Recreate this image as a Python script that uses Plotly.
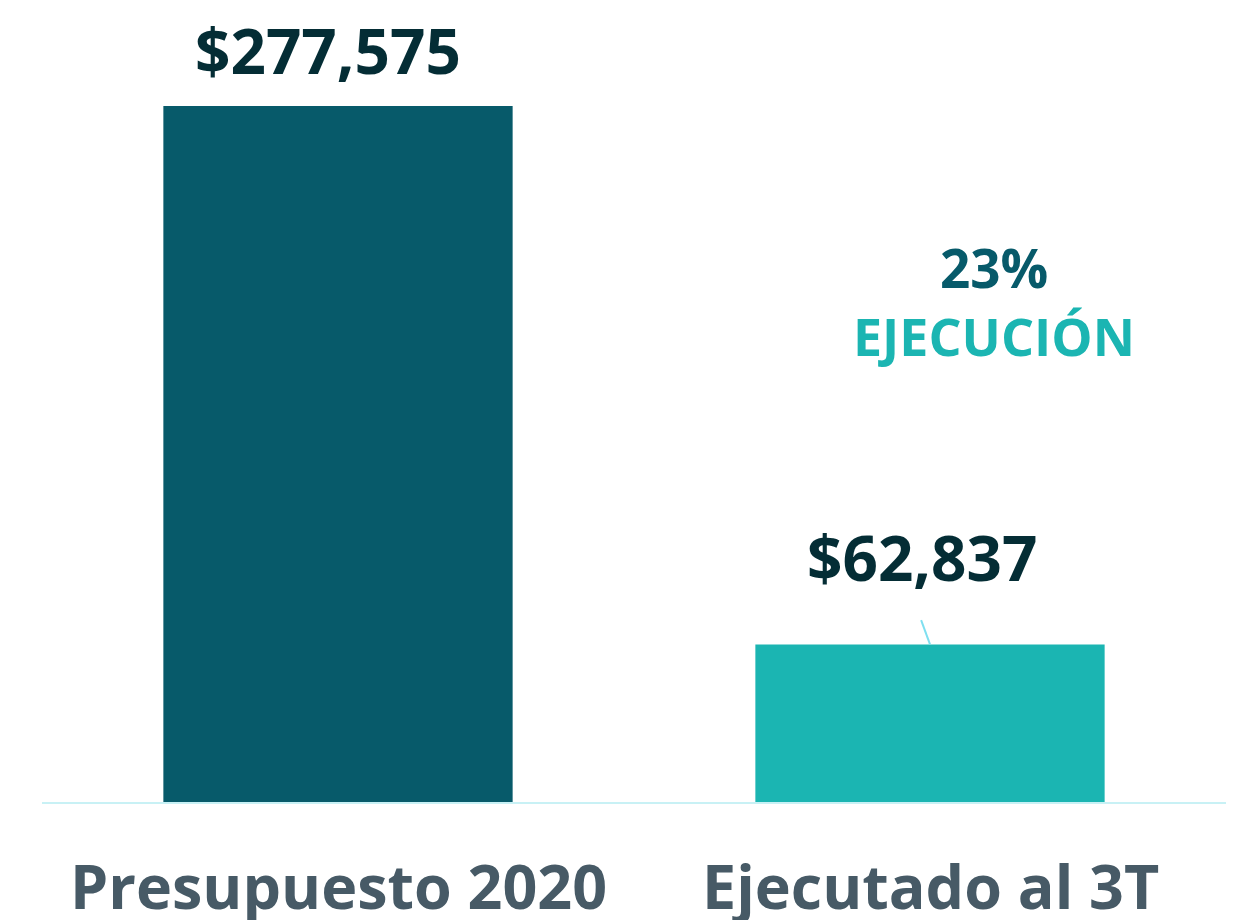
import plotly.graph_objects as go

# Budget vs. executed amount
categories = ["Presupuesto 2020", "Ejecutado al 3T"]
values = [277575, 62837]
bar_colors = ["#075a6a", "#1bb5b2"]
value_labels = ["$277,575", "$62,837"]
execution_pct = "23%"
execution_word = "EJECUCIÓN"

FONT = "Open Sans"

fig = go.Figure(
    go.Bar(
        x=[0, 1],
        y=values,
        marker=dict(color=bar_colors, line=dict(width=0)),
        width=0.59,
        hoverinfo="skip",
    )
)

top = max(values) * 1.1236

# value labels above each bar
fig.add_annotation(x=0, y=values[0], xref="x", yref="y", text=value_labels[0],
                   showarrow=False, yanchor="bottom", xshift=-10, yshift=12,
                   font=dict(family=FONT, size=62, color="#042d35", weight="bold"))
fig.add_annotation(x=1, y=values[1], xref="x", yref="y", text=value_labels[1],
                   showarrow=False, yanchor="bottom", xshift=-8, yshift=43,
                   font=dict(family=FONT, size=62, color="#042d35", weight="bold"))

# leader line from the second label down to its bar
fig.add_shape(type="line", xref="x", yref="y",
              x0=0.985, x1=1.0, y0=values[1] + top * 0.031, y1=values[1],
              line=dict(color="#7fdff0", width=2))

# execution share callout
fig.add_annotation(x=1.108, y=0.683, xref="x", yref="paper", text=execution_pct,
                   showarrow=False, xanchor="center", yanchor="middle",
                   font=dict(family=FONT, size=53, color="#075a6a", weight="bold"))
fig.add_annotation(x=1.108, y=0.596, xref="x", yref="paper", text=execution_word,
                   showarrow=False, xanchor="center", yanchor="middle",
                   font=dict(family=FONT, size=52, color="#1bb5b2", weight="bold"))

# category labels under the axis
for i, c in enumerate(categories):
    fig.add_annotation(x=i, y=0, xref="x", yref="paper", text=c, showarrow=False,
                       yanchor="top", yshift=-40,
                       font=dict(family=FONT, size=61, color="#475a66", weight="bold"))

fig.update_layout(
    width=1246, height=920,
    margin=dict(l=42, r=20, t=20, b=118),
    paper_bgcolor="white", plot_bgcolor="white",
    showlegend=False,
    xaxis=dict(range=[-0.5, 1.5], showticklabels=False, showgrid=False, zeroline=False,
               showline=True, linecolor="#c8f1f5", linewidth=2, fixedrange=True),
    yaxis=dict(range=[0, top], visible=False, showgrid=False, zeroline=False, fixedrange=True),
)

fig.write_html("out.html")
